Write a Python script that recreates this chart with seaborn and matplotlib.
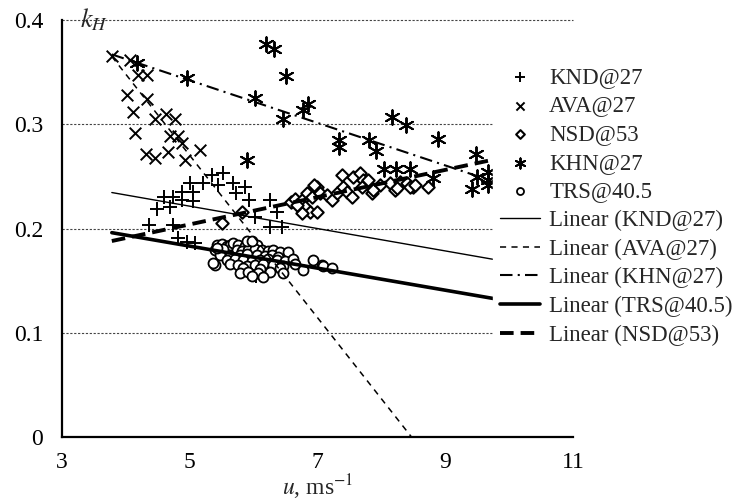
import numpy as np
import pandas as pd
import seaborn as sns
import matplotlib.pyplot as plt

# measured points (u in m/s, k_H)
knd_u = [4.36, 4.49, 4.60, 4.69, 4.74, 4.74, 4.82, 4.88, 4.88, 4.96, 5.05, 5.05, 5.08, 5.00,
         5.20, 5.35, 5.52, 5.44, 5.68, 5.72, 5.86, 5.93, 6.02, 6.26, 6.36, 6.26, 6.44, 6.04]
knd_k = [0.203, 0.219, 0.230, 0.221, 0.203, 0.230, 0.191, 0.235, 0.227, 0.187, 0.226, 0.235,
         0.186, 0.244, 0.244, 0.251, 0.253, 0.242, 0.244, 0.234, 0.240, 0.227, 0.211, 0.227,
         0.216, 0.201, 0.201, 0.154]

ava_u = [3.78, 4.06, 4.19, 4.33, 4.02, 4.33, 4.11, 4.46, 4.63, 4.77, 4.14, 4.69, 4.82, 4.88,
         4.31, 4.46, 4.66, 4.92, 5.16]
ava_k = [0.365, 0.362, 0.347, 0.347, 0.328, 0.324, 0.312, 0.305, 0.310, 0.305, 0.292, 0.289,
         0.289, 0.282, 0.271, 0.268, 0.273, 0.266, 0.275]

nsd_u = [5.50, 5.82, 6.58, 6.65, 6.76, 6.83, 6.91, 6.99, 7.04, 6.80, 6.88, 6.99, 6.76, 6.68,
         7.15, 7.23, 7.30, 7.40, 7.46, 7.54, 7.55, 7.66, 7.71, 7.77, 7.85, 7.69, 7.98, 8.13,
         8.21, 8.29, 8.40, 8.49, 8.73, 7.38, 7.79, 7.87, 8.24, 8.45, 8.52, 6.95]
nsd_k = [0.205, 0.216, 0.225, 0.228, 0.227, 0.234, 0.230, 0.240, 0.234, 0.221, 0.216, 0.216,
         0.215, 0.223, 0.232, 0.227, 0.234, 0.240, 0.235, 0.230, 0.249, 0.253, 0.247, 0.244,
         0.234, 0.240, 0.242, 0.244, 0.237, 0.245, 0.244, 0.240, 0.240, 0.251, 0.247, 0.237,
         0.239, 0.240, 0.242, 0.242]

khn_u = [4.17, 4.96, 5.90, 6.02, 6.19, 6.32, 6.51, 6.46, 6.78, 6.85, 7.33, 7.33, 7.80, 7.91,
         8.16, 8.38, 8.88, 8.04, 8.23, 8.45, 8.81, 9.48, 9.42, 9.49, 9.67, 9.67, 9.67]
khn_k = [0.359, 0.344, 0.266, 0.325, 0.377, 0.372, 0.346, 0.305, 0.314, 0.319, 0.285, 0.278,
         0.285, 0.274, 0.307, 0.299, 0.286, 0.257, 0.257, 0.257, 0.248, 0.271, 0.238, 0.249,
         0.254, 0.247, 0.242]

trs_u = [5.43, 5.50, 5.58, 5.63, 5.68, 5.75, 5.86, 5.97, 6.05,
         5.39, 5.52, 5.74, 5.82, 5.91, 6.02, 6.13, 6.22, 6.30, 6.41,
         5.47, 5.63, 5.79, 5.90, 6.05, 6.18, 6.29, 6.38, 6.54,
         5.58, 5.71, 5.83, 5.97, 6.10, 6.22, 6.36, 6.49, 6.62, 6.93,
         5.39, 5.63, 5.75, 5.90, 6.02, 6.15, 6.30, 6.46, 6.65, 7.07,
         5.83, 6.10, 6.41, 6.77, 7.08, 7.23,
         5.79, 5.91, 6.07, 6.26, 6.46,
         5.97, 6.15, 5.90, 5.97, 5.36, 5.42]
trs_k = [0.184, 0.185, 0.183, 0.184, 0.186, 0.184, 0.183, 0.185, 0.184,
         0.179, 0.180, 0.179, 0.178, 0.179, 0.180, 0.179, 0.178, 0.179, 0.177,
         0.175, 0.174, 0.175, 0.176, 0.175, 0.174, 0.175, 0.173, 0.177,
         0.170, 0.171, 0.170, 0.169, 0.170, 0.171, 0.170, 0.169, 0.171, 0.170,
         0.165, 0.166, 0.165, 0.164, 0.165, 0.166, 0.165, 0.164, 0.166, 0.165,
         0.162, 0.161, 0.162, 0.160, 0.164, 0.162,
         0.157, 0.158, 0.157, 0.158, 0.157,
         0.154, 0.153, 0.188, 0.188, 0.167, 0.181]

# linear trend lines: value at start, slope per m/s, x range
trend_names = ["KND@27", "AVA@27", "KHN@27", "TRS@40.5", "NSD@53"]
trend_k0 = [0.2345, 0.365, 0.367, 0.196, 0.188]
trend_slope = [-0.01073, -0.0778, -0.0204, -0.01057, 0.01307]
trend_u0 = [3.78, 3.78, 3.78, 3.78, 3.78]
trend_u1 = [10.0, 8.47, 10.0, 10.0, 10.0]

sns.set_style("white")
plt.rcParams['font.family'] = ['Liberation Serif', 'DejaVu Serif']
plt.rcParams['mathtext.fontset'] = 'stix'

fig = plt.figure(figsize=(7.34, 5.04), dpi=100)
ax = fig.add_axes([62 / 734, 1 - 437 / 504, 511 / 734, 417 / 504])

sns.scatterplot(x=knd_u, y=knd_k, marker='+', s=100, color='black', linewidth=1.4,
                label='KND@27', legend=False, ax=ax, zorder=3)
sns.scatterplot(x=ava_u, y=ava_k, marker='x', s=70, color='black', linewidth=1.4,
                label='AVA@27', legend=False, ax=ax, zorder=3)
sns.scatterplot(x=nsd_u, y=nsd_k, marker='D', s=40, facecolor='white', edgecolor='black',
                linewidth=1.5, label='NSD@53', legend=False, ax=ax, zorder=3)
sns.scatterplot(x=khn_u, y=khn_k, marker=(6, 2, 0), s=110, color='black', linewidth=1.4,
                label='KHN@27', legend=False, ax=ax, zorder=3)
sns.scatterplot(x=trs_u, y=trs_k, marker='o', s=52, facecolor='white', edgecolor='black',
                linewidth=1.3, label='TRS@40.5', legend=False, ax=ax, zorder=3)

styles = {
    "KND@27": dict(lw=1.0, ls='-'),
    "AVA@27": dict(lw=1.1, ls=(0, (4, 3.5))),
    "KHN@27": dict(lw=1.5, ls=(0, (6, 2.5, 1, 2.5))),
    "TRS@40.5": dict(lw=2.6, ls='-'),
    "NSD@53": dict(lw=2.8, ls=(0, (3.5, 1.8))),
}
for name, k0, b, u0, u1 in zip(trend_names, trend_k0, trend_slope, trend_u0, trend_u1):
    uu = np.array([u0, u1])
    kk = k0 + b * (uu - u0)
    sns.lineplot(x=uu, y=kk, color='black', linewidth=styles[name]['lw'],
                 linestyle=styles[name]['ls'], label=f'Linear ({name})',
                 legend=False, ax=ax, zorder=4)

ax.set_xlim(3, 11)
ax.set_ylim(0, 0.4)
ax.set_xticks([3, 5, 7, 9, 11])
ax.set_yticks([0, 0.1, 0.2, 0.3, 0.4])
ax.set_yticklabels(['0', '0.1', '0.2', '0.3', '0.4'])
ax.tick_params(direction='inout', length=9, width=1.2, labelsize=17, colors='black')
ax.tick_params(axis='x', pad=6)
ax.tick_params(axis='y', pad=9)
for s in ['top', 'right']:
    ax.spines[s].set_visible(False)
for s in ['left', 'bottom']:
    ax.spines[s].set_color('black')
    ax.spines[s].set_linewidth(1.6)
for yv in [0.1, 0.2, 0.3, 0.4]:
    ax.axhline(yv, color='#444444', lw=0.8, ls=(0, (2, 1.5)), zorder=1, clip_on=False)

ax.set_xlabel(r'$u$, ms$^{-1}$', fontsize=17, labelpad=0)
ax.text(0.035, 1.0, r'$k_H$', transform=ax.transAxes, fontsize=19, va='center', ha='left')

handles, labels = ax.get_legend_handles_labels()
order = ['KND@27', 'AVA@27', 'NSD@53', 'KHN@27', 'TRS@40.5',
         'Linear (KND@27)', 'Linear (AVA@27)', 'Linear (KHN@27)',
         'Linear (TRS@40.5)', 'Linear (NSD@53)']
hmap = dict(zip(labels, handles))
leg = ax.legend([hmap[l] for l in order], order, loc='upper left',
                bbox_to_anchor=(493 / 734, 1 - 60 / 504), bbox_transform=fig.transFigure,
                fontsize=16.5, frameon=True, fancybox=False, framealpha=1,
                facecolor='white', edgecolor='white', markerscale=0.7,
                handlelength=1.75, handletextpad=0.4, labelspacing=0.33,
                borderpad=0.3, borderaxespad=0)
leg.set_zorder(10)

fig.savefig('out.png', dpi=100)
